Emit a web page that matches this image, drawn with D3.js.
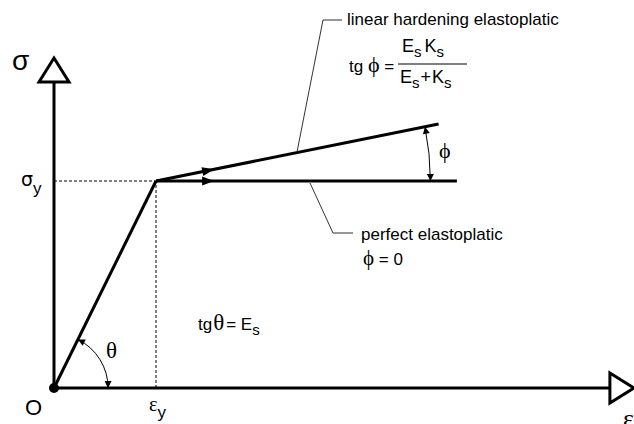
<!DOCTYPE html>
<html>
<head>
<meta charset="utf-8">
<script src="https://cdn.jsdelivr.net/npm/d3@7"></script>
<style>
  body { margin: 0; background: #fff; }
  text { font-family: "Liberation Sans", Arial, sans-serif; fill: #000; }
  .greek { font-family: "Liberation Serif", "DejaVu Serif", serif; }
</style>
</head>
<body>
<div id="chart"></div>
<script>
// strain / stress in units of the yield point (eps_y = 1, sigma_y = 1)
var yieldPoint = [1, 1];
var elasticBranch = [[0, 0], [1, 1]];
var hardeningBranch = [[1, 1], [3.77, 1.275]];
var perfectBranch = [[1, 1], [3.95, 1]];
var axisEnds = { strain: 5.45, stress: 1.478 };
var thetaRadius = 0.53;   // in strain units
var phiRadius = 2.69;     // in strain units

var width = 634;
var height = 424;

var x = d3.scaleLinear().domain([0, 1]).range([54, 156]);
var y = d3.scaleLinear().domain([0, 1]).range([388, 181]);

var svg = d3.select("#chart").append("svg")
    .attr("width", width)
    .attr("height", height);

var defs = svg.append("defs");
defs.append("marker")
    .attr("id", "head")
    .attr("markerUnits", "userSpaceOnUse")
    .attr("viewBox", "0 -5 10 10")
    .attr("refX", 10).attr("refY", 0)
    .attr("markerWidth", 12).attr("markerHeight", 7)
    .attr("orient", "auto-start-reverse")
    .append("path").attr("d", "M0,-5L10,0L0,5Z").attr("fill", "#000");

var line = d3.line().x(d => x(d[0])).y(d => y(d[1]));

// dashed guides to the yield point
svg.append("path")
    .attr("d", line([[0, yieldPoint[1]], yieldPoint]))
    .attr("fill", "none").attr("stroke", "#000").attr("stroke-width", 1)
    .attr("stroke-dasharray", "3,2");
svg.append("path")
    .attr("d", line([[yieldPoint[0], 0], yieldPoint]))
    .attr("fill", "none").attr("stroke", "#000").attr("stroke-width", 1)
    .attr("stroke-dasharray", "3,2");

// axes with open triangle heads
svg.append("path")
    .attr("d", line([[0, 0], [0, axisEnds.stress]]))
    .attr("stroke", "#000").attr("stroke-width", 3);
svg.append("path")
    .attr("d", line([[0, 0], [axisEnds.strain, 0]]))
    .attr("stroke", "#000").attr("stroke-width", 3);

var ty = y(axisEnds.stress);
svg.append("path")
    .attr("d", "M" + (x(0) - 15) + "," + ty + "L" + x(0) + "," + (ty - 24) + "L" + (x(0) + 15) + "," + ty + "Z")
    .attr("fill", "#fff").attr("stroke", "#000").attr("stroke-width", 3).attr("stroke-linejoin", "miter");
var tx = x(axisEnds.strain);
svg.append("path")
    .attr("d", "M" + tx + "," + (y(0) - 15) + "L" + (tx + 24) + "," + y(0) + "L" + tx + "," + (y(0) + 15) + "Z")
    .attr("fill", "#fff").attr("stroke", "#000").attr("stroke-width", 3);

// branches
[elasticBranch, hardeningBranch, perfectBranch].forEach(function (b) {
    svg.append("path")
        .attr("d", line(b))
        .attr("fill", "none").attr("stroke", "#000").attr("stroke-width", 3)
        .attr("stroke-linecap", "butt");
});

// direction arrows on the plastic branches
[hardeningBranch, perfectBranch].forEach(function (b) {
    var x0 = x(b[0][0]), y0 = y(b[0][1]);
    var x1 = x(b[1][0]), y1 = y(b[1][1]);
    var ang = Math.atan2(y1 - y0, x1 - x0) * 180 / Math.PI;
    var t = (x(1.57) - x0) / (x1 - x0);
    svg.append("path")
        .attr("d", "M-12,-4.5L0,0L-12,4.5Z")
        .attr("fill", "#000")
        .attr("transform", "translate(" + (x0 + t * (x1 - x0)) + "," + (y0 + t * (y1 - y0)) + ") rotate(" + ang + ")");
});

svg.append("circle")
    .attr("cx", x(0)).attr("cy", y(0)).attr("r", 5).attr("fill", "#000");

// angle arcs
function arcPath(center, rStrain, b) {
    var cx = x(center[0]), cy = y(center[1]);
    var r = x(rStrain) - x(0);
    var a = Math.atan2(y(b[1][1]) - y(b[0][1]), x(b[1][0]) - x(b[0][0]));
    var p = d3.path();
    p.moveTo(cx + r * Math.cos(a), cy + r * Math.sin(a));
    p.arc(cx, cy, r, a, 0, false);
    return p.toString();
}
svg.append("path")
    .attr("d", arcPath([0, 0], thetaRadius, elasticBranch))
    .attr("fill", "none").attr("stroke", "#000").attr("stroke-width", 1)
    .attr("marker-start", "url(#head)").attr("marker-end", "url(#head)");
svg.append("path")
    .attr("d", arcPath(yieldPoint, phiRadius, hardeningBranch))
    .attr("fill", "none").attr("stroke", "#000").attr("stroke-width", 1)
    .attr("marker-start", "url(#head)").attr("marker-end", "url(#head)");

// leader lines
svg.append("path")
    .attr("d", "M297,152L323,20L342,20")
    .attr("fill", "none").attr("stroke", "#333").attr("stroke-width", 1);
svg.append("path")
    .attr("d", "M310,183L333,233L353,233")
    .attr("fill", "none").attr("stroke", "#333").attr("stroke-width", 1);

// labels
svg.append("text").attr("x", 12).attr("y", 70)
    .attr("font-family", "DejaVu Sans").attr("font-size", 28).text("σ");

var sy = svg.append("text").attr("x", 21).attr("y", 186).attr("font-size", 20);
sy.append("tspan").attr("font-family", "DejaVu Sans").attr("font-size", 19).text("σ");
sy.append("tspan").attr("dy", 8).attr("font-size", 17).text("y");

svg.append("text").attr("x", 25).attr("y", 415).attr("font-size", 22).text("O");

var ey = svg.append("text").attr("x", 149).attr("y", 411).attr("font-size", 20);
ey.append("tspan").attr("class", "greek").text("ε");
ey.append("tspan").attr("dy", 7).attr("font-size", 17).text("y");

svg.append("text").attr("class", "greek").attr("x", 623).attr("y", 427)
    .attr("font-size", 26).text("ε");

svg.append("text").attr("class", "greek").attr("x", 106).attr("y", 358)
    .attr("font-size", 23).text("θ");
svg.append("text").attr("class", "greek").attr("x", 439).attr("y", 158)
    .attr("font-size", 22).text("ϕ");

var tt = svg.append("text").attr("x", 198).attr("y", 330).attr("font-size", 17);
tt.append("tspan").text("tg");
tt.append("tspan").attr("class", "greek").attr("font-size", 23).attr("dx", 1).text("θ");
tt.append("tspan").attr("dx", 2).text("= E");
tt.append("tspan").attr("dy", 5).attr("font-size", 15).text("s");

svg.append("text").attr("x", 347).attr("y", 25).attr("font-size", 17)
    .text("linear hardening elastoplatic");

var tp = svg.append("text").attr("x", 349).attr("y", 72).attr("font-size", 17);
tp.append("tspan").text("tg ");
tp.append("tspan").attr("class", "greek").attr("font-size", 22).text("ϕ");
tp.append("tspan").text(" =");

var num = svg.append("text").attr("x", 402).attr("y", 52).attr("font-size", 18);
num.append("tspan").text("E");
num.append("tspan").attr("dy", 5).attr("font-size", 15).text("s");
num.append("tspan").attr("dy", -5).attr("dx", 3).text("K");
num.append("tspan").attr("dy", 5).attr("font-size", 15).text("s");

svg.append("line").attr("x1", 398).attr("x2", 467).attr("y1", 64).attr("y2", 64)
    .attr("stroke", "#000").attr("stroke-width", 1.2);

var den = svg.append("text").attr("x", 400).attr("y", 83).attr("font-size", 18);
den.append("tspan").text("E");
den.append("tspan").attr("dy", 5).attr("font-size", 15).text("s");
den.append("tspan").attr("dy", -5).attr("dx", 1).text("+");
den.append("tspan").attr("dx", 1).text("K");
den.append("tspan").attr("dy", 5).attr("font-size", 15).text("s");

svg.append("text").attr("x", 361).attr("y", 240).attr("font-size", 17)
    .text("perfect elastoplatic");

var pz = svg.append("text").attr("x", 363).attr("y", 265).attr("font-size", 17);
pz.append("tspan").attr("class", "greek").attr("font-size", 21).text("ϕ");
pz.append("tspan").text(" = 0");
</script>
</body>
</html>
